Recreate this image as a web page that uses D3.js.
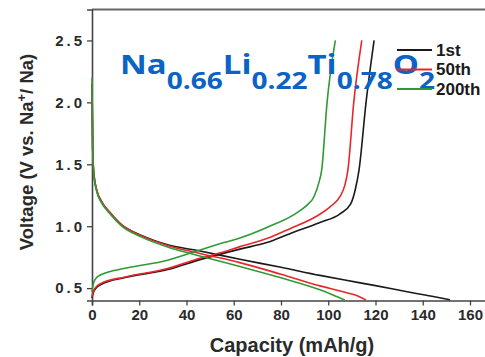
<!DOCTYPE html>
<html>
<head>
<meta charset="utf-8">
<script src="https://cdn.jsdelivr.net/npm/d3@7"></script>
<style>
  html, body { margin: 0; padding: 0; background: #fff; }
  svg { display: block; }
  .tick text { font-family: "Liberation Sans", Arial, sans-serif; font-weight: bold; font-size: 15px; fill: #2a2a2a; }
  .y-axis .tick text { letter-spacing: 3px; }
</style>
</head>
<body>
<svg id="chart" width="485" height="357"></svg>
<script>
// ─── Data (capacity mAh/g, voltage V) ───────────────────────────────────────
const cycles = ["1st", "50th", "200th"];
const cycleColors = ["#1a1a1a", "#e8262b", "#2f9a35"];

// discharge branches
const dis1st = [[0,2.15],[0.3,1.62],[0.8,1.42],[2,1.29],[4,1.2],[7.6,1.11],[12.6,1.01],[21,0.925],[32,0.85],[45.7,0.8],[62.6,0.733],[80,0.668],[96.5,0.603],[107,0.565],[120,0.52],[135,0.465],[145,0.43],[151.5,0.405]];
const dis50th = [[0,2.15],[0.3,1.62],[0.8,1.42],[2,1.29],[4,1.2],[7.6,1.11],[12.6,1.01],[21,0.922],[32,0.845],[45.7,0.78],[62.6,0.706],[80,0.612],[96.5,0.518],[105,0.477],[112,0.44],[116,0.405]];
const dis200th = [[0,2.2],[0.3,1.62],[0.8,1.41],[2,1.28],[4,1.19],[7.6,1.1],[12.6,1.0],[21,0.912],[32,0.832],[43.6,0.77],[62.6,0.674],[80,0.583],[96.5,0.486],[102,0.445],[107,0.405]];

// charge branches
const chg1st = [[0,0.42],[0.5,0.46],[1.3,0.49],[4,0.53],[14,0.585],[32,0.65],[45.7,0.73],[62.6,0.815],[74,0.868],[83.8,0.94],[96.5,1.03],[105,1.1],[109.5,1.18],[111.5,1.3],[113,1.45],[116,2.0],[119.4,2.5]];
const chg50th = [[0,0.43],[0.5,0.47],[1.3,0.5],[4,0.54],[14,0.59],[32,0.658],[45.7,0.742],[56.3,0.795],[62.6,0.835],[74,0.9],[83.8,0.98],[95,1.08],[101,1.16],[105,1.24],[107,1.33],[108.3,1.45],[110.8,2.0],[114.2,2.5]];
const chg200th = [[0,0.47],[0.5,0.53],[1.5,0.575],[4,0.61],[14,0.66],[32,0.725],[43.6,0.795],[56.3,0.87],[62.6,0.905],[74,0.99],[86,1.1],[91,1.17],[94,1.24],[96,1.35],[97.2,1.45],[99.5,2.0],[103,2.5]];

const series = [
  { name: "1st",   dis: dis1st,   chg: chg1st },
  { name: "50th",  dis: dis50th,  chg: chg50th },
  { name: "200th", dis: dis200th, chg: chg200th }
];

const xTicks = [0, 20, 40, 60, 80, 100, 120, 140, 160];
const xMinor = [10, 30, 50, 70, 90, 110, 130, 150, 170];
const yTicks = [0.5, 1.0, 1.5, 2.0, 2.5];
const yMinor = [0.75, 1.25, 1.75, 2.25, 2.75];

// ─── Scales ────────────────────────────────────────────────────────────────
const svg = d3.select("#chart");
const x = d3.scaleLinear().domain([0, 170]).range([92, 92 + 170 * 2.3625]);
const y = d3.scaleLinear().domain([0.4, 2.75]).range([300.5, 9.5]);

// frame top line
svg.append("line")
  .attr("x1", x(0)).attr("x2", 485)
  .attr("y1", y(2.75)).attr("y2", y(2.75))
  .attr("stroke", "#666").attr("stroke-width", 2);

// ─── Axes ──────────────────────────────────────────────────────────────────
const xAxisG = svg.append("g").attr("transform", `translate(0,${y(0.4)})`);
xAxisG.call(d3.axisBottom(x).tickValues(xMinor).tickSize(3).tickFormat(""));
xAxisG.call(d3.axisBottom(x).tickValues(xTicks).tickSize(5).tickPadding(4).tickFormat(d3.format("d")));

const yAxisG = svg.append("g").attr("class", "y-axis").attr("transform", `translate(${x(0)},0)`);
yAxisG.call(d3.axisLeft(y).tickValues(yMinor).tickSize(3).tickFormat(""));
yAxisG.call(d3.axisLeft(y).tickValues(yTicks).tickSize(5).tickPadding(2).tickFormat(d3.format(".1f")));

svg.selectAll(".domain").attr("stroke", "#444").attr("stroke-width", 1.6);
svg.selectAll(".tick line").attr("stroke", "#444").attr("stroke-width", 1.3);

// ─── Curves ────────────────────────────────────────────────────────────────
const line = d3.line()
  .x(d => x(d[0]))
  .y(d => y(d[1]))
  .curve(d3.curveMonotoneX);

const curves = svg.append("g");
series.forEach((s, i) => {
  [s.dis, s.chg].forEach(branch => {
    curves.append("path")
      .datum(branch)
      .attr("fill", "none")
      .attr("stroke", cycleColors[i])
      .attr("stroke-width", 1.6)
      .attr("d", line);
  });
});

// ─── Title formula ─────────────────────────────────────────────────────────
const formula = [["Na", "0.66"], ["Li", "0.22"], ["Ti", "0.78"], ["O", "2"]];
const title = svg.append("text")
  .attr("transform", "translate(120,74) scale(1.22,1)")
  .attr("font-family", "'Open Sans', sans-serif")
  .attr("font-weight", "bold")
  .attr("font-size", "27px")
  .attr("fill", "#0b63c5");
formula.forEach(([el, sub]) => {
  title.append("tspan").attr("dy", -15).attr("font-size", "27px").text(el);
  title.append("tspan").attr("dy", 15).attr("font-size", "23px").text(sub);
});
title.select("tspan").attr("dy", 0);

// ─── Legend ────────────────────────────────────────────────────────────────
const legend = svg.append("g");
cycles.forEach((c, i) => {
  const ly = 50 + i * 19.5;
  legend.append("line")
    .attr("x1", 397).attr("x2", 432)
    .attr("y1", ly).attr("y2", ly)
    .attr("stroke", cycleColors[i]).attr("stroke-width", 1.8);
  legend.append("text")
    .attr("x", 436).attr("y", ly + 5.5)
    .attr("font-family", "'Liberation Sans', Arial, sans-serif")
    .attr("font-weight", "bold")
    .attr("font-size", "17px")
    .attr("fill", "#1a1a1a")
    .text(c);
});

// ─── Axis labels ───────────────────────────────────────────────────────────
svg.append("text")
  .attr("x", 292).attr("y", 352)
  .attr("text-anchor", "middle")
  .attr("font-family", "'Liberation Sans', Arial, sans-serif")
  .attr("font-weight", "bold")
  .attr("font-size", "20px")
  .attr("fill", "#2a2a2a")
  .text("Capacity (mAh/g)");

const yl = svg.append("text")
  .attr("transform", "translate(33,152) rotate(-90)")
  .attr("text-anchor", "middle")
  .attr("font-family", "'Liberation Sans', Arial, sans-serif")
  .attr("font-weight", "bold")
  .attr("font-size", "18.5px")
  .attr("fill", "#2a2a2a");
yl.append("tspan").text("Voltage  (V vs. Na");
yl.append("tspan").attr("font-size", "13px").attr("dy", -7).text("+");
yl.append("tspan").attr("dy", 7).text("/ Na)");
</script>
</body>
</html>
